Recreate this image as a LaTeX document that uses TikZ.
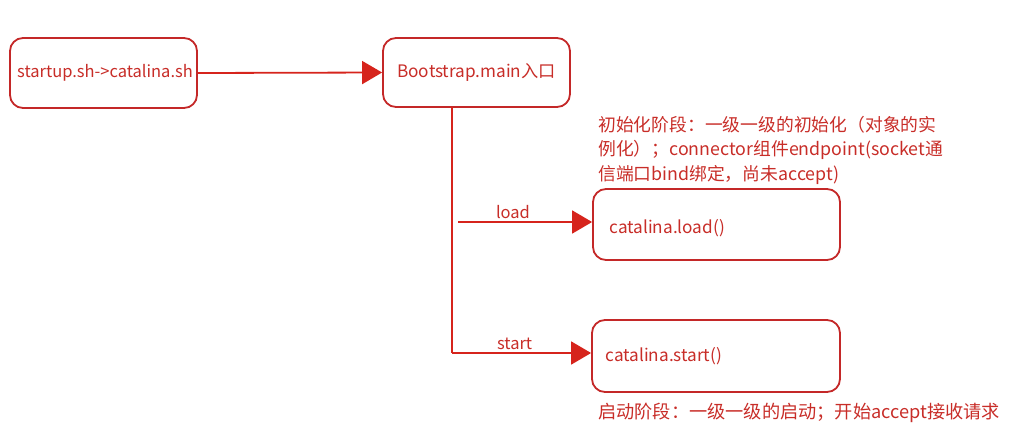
\documentclass[tikz,border=0pt]{standalone}
\usepackage{fontspec}
\setmainfont{Noto Sans CJK SC}
\usetikzlibrary{arrows.meta}
\definecolor{boxred}{RGB}{196,40,40}
\definecolor{txtred}{RGB}{200,45,40}
\definecolor{arrred}{RGB}{214,36,28}
\begin{document}
\begin{tikzpicture}[x=1pt,y=-1pt,
  rbox/.style={draw=boxred,line width=1.8pt,rounded corners=13pt,fill=white,inner sep=0pt},
  conn/.style={draw=arrred,line width=1.8pt,-{Triangle[length=20pt,width=23pt]}},
  plain/.style={draw=arrred,line width=1.8pt},
  lbl/.style={text=txtred,font=\fontsize{17.2}{20}\selectfont},
  elbl/.style={text=txtred,font=\fontsize{16.5}{19}\selectfont},
  note/.style={text=txtred,font=\fontsize{17.8}{24.5}\selectfont,align=left,anchor=north west,inner sep=0pt}]
\useasboundingbox (0,0) rectangle (1015,442);
\node[rbox,minimum width=187pt,minimum height=70pt] (a) at (103.5,73) {};
\node[lbl,font=\fontsize{16.5}{20}\selectfont] at ([xshift=1.5pt]a.center) {startup.sh->catalina.sh};
\node[rbox,minimum width=187pt,minimum height=69pt] (b) at (476.5,72.5) {};
\node[lbl] at (b.center) {Bootstrap.main入口};
\node[rbox,minimum width=247pt,minimum height=71pt] (c) at (716.5,224.5) {};
\node[lbl,anchor=west] at (606,228) {catalina.load()};
\node[rbox,minimum width=248pt,minimum height=72pt] (d) at (716,356) {};
\node[lbl,anchor=west] at (602,356) {catalina.start()};
\draw[conn] (a.east) -- (b.west);
\coordinate (vtop) at (452,107);
\coordinate (vbot) at (452,353);
\coordinate (lstart) at (458,222);
\draw[plain] (vtop) -- (vbot);
\draw[conn] (lstart) -- (c.west |- lstart) node[pos=0.41,above,elbl,inner sep=2pt] {load};
\draw[conn] (vbot) -- (d.west |- vbot) node[pos=0.45,above,elbl,inner sep=2pt] {start};
\node[note] (n1) at (598,116) {初始化阶段：一级一级的初始化（对象的实\\例化）；connector组件endpoint(socket通\\信端口bind绑定，尚未accept)};
\node[note,font=\fontsize{18.2}{24.5}\selectfont] (n2) at (598,403) {启动阶段：一级一级的启动；开始accept接收请求};
\end{tikzpicture}
\end{document}
